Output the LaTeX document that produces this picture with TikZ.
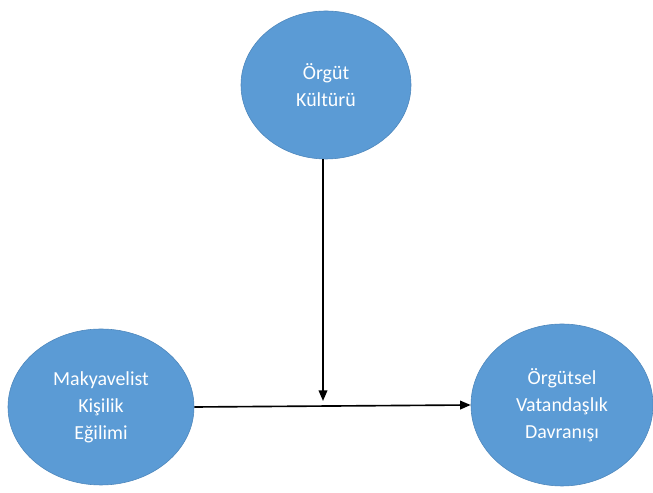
\documentclass[tikz,border=0pt]{standalone}
\usepackage{fontspec}
\setmainfont{Carlito}
\usetikzlibrary{
    arrows.meta,
    calc,
    positioning,
    shapes.geometric
}
\definecolor{ovalblue}{RGB}{91,155,213}
\definecolor{ovaledge}{RGB}{78,135,188}
\tikzset{
    % Oval styles
    factor oval/.style={
        ellipse,
        draw=ovaledge,
        line width=0.5pt,
        fill=ovalblue,
        text=white,
        inner sep=0pt,
        align=center,
        font=\fontsize{17}{23}\selectfont
    },
    % Arrow styles
    effect arrow/.style={
        -{Triangle[length=3.2mm,width=2.6mm]},
        line width=1.4pt,
        black
    }
}
\begin{document}
\begin{tikzpicture}
        \useasboundingbox (0,0) rectangle (19.59,14.79);
        % Nodes
        \node[factor oval, minimum width=5.1cm, minimum height=4.44cm] (culture) at (9.78,12.24) {Örgüt\\Kültürü};
        \node[factor oval, minimum width=5.58cm, minimum height=4.68cm] (mach) at (3.03,2.58) {Makyavelist\\Kişilik\\Eğilimi};
        \node[factor oval, minimum width=5.46cm, minimum height=4.86cm] (ocb) at (16.86,2.64) {Örgütsel\\Vatandaşlık\\Davranışı};
        \coordinate (meet) at ($(culture.south |- mach.east)+(-0.09,0.18)$);

        % Edges
        \draw[effect arrow] (mach.east) -- (ocb.west);
        \draw[effect arrow] ($(culture.south)+(-0.09,0)$) -- (meet);
    \end{tikzpicture}
\end{document}
